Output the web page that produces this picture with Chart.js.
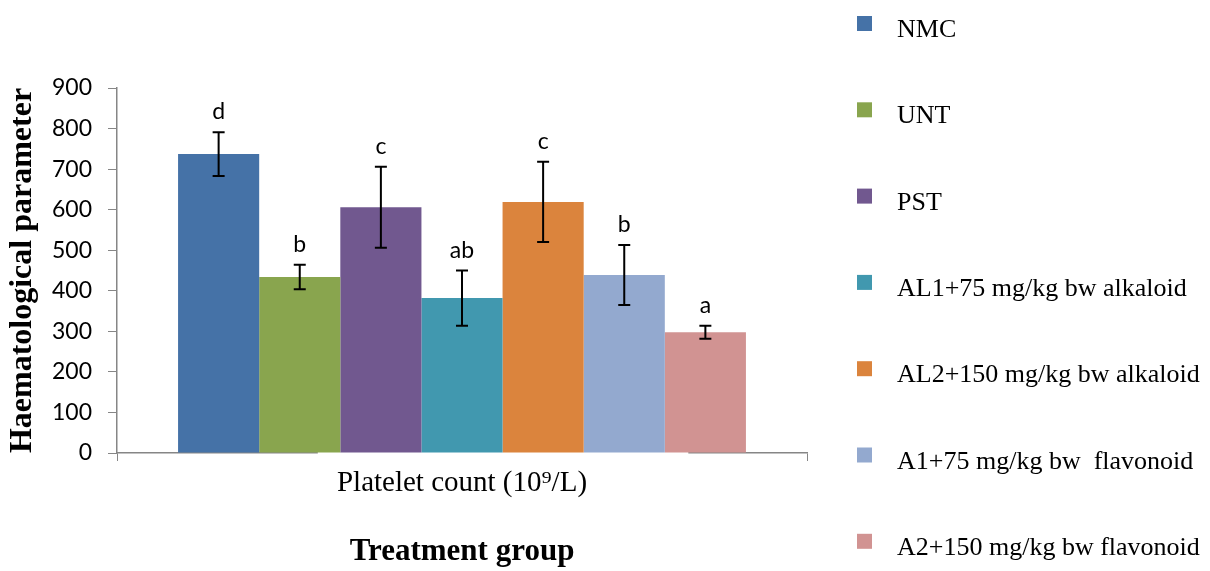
<!DOCTYPE html>
<html>
<head>
<meta charset="utf-8">
<script src="https://cdn.jsdelivr.net/npm/chart.js@4"></script>
<style>
html,body{margin:0;padding:0;background:#fff;}
#wrap{width:1210px;height:571px;}
</style>
</head>
<body>
<div id="wrap"><canvas id="chart"></canvas></div>
<script>
// DATA
const groups = ['NMC','UNT','PST','AL1+75 mg/kg bw alkaloid','AL2+150 mg/kg bw alkaloid','A1+75 mg/kg bw  flavonoid','A2+150 mg/kg bw flavonoid'];
const platelet = [737, 434, 606, 382, 619, 439, 298];
const errors = [54, 30, 100, 68, 99, 74, 16];
const letters = ['d','b','c','ab','c','b','a'];
const colors = ['#4572A7','#89A54E','#71588F','#4198AF','#DB843D','#93A9CF','#D19392'];
const category = ['Platelet count (10\u2079/L)'];

// ERROR BARS + LETTERS
const errorBars = {
  id:'errorBars',
  beforeDatasetsDraw(chart){
    // white label box that hides part of the x axis line
    const a = chart.chartArea, c = chart.ctx;
    c.save();
    c.fillStyle = '#fff';
    c.fillRect(a.left + a.width*0.291, a.bottom - 1, a.width*0.537, 4);
    c.restore();
  },
  afterDatasetsDraw(chart){
    const c = chart.ctx, y = chart.scales.y;
    c.save();
    c.strokeStyle = '#000';
    c.lineWidth = 2;
    c.fillStyle = '#000';
    c.font = '23px Lato';
    c.textAlign = 'center';
    c.textBaseline = 'alphabetic';
    chart.data.datasets.forEach((ds,i)=>{
      const x = chart.getDatasetMeta(i).data[0].x;
      const hi = y.getPixelForValue(platelet[i] + errors[i]);
      const lo = y.getPixelForValue(platelet[i] - errors[i]);
      c.beginPath();
      c.moveTo(x, hi); c.lineTo(x, lo);
      c.moveTo(x-6, hi); c.lineTo(x+6, hi);
      c.moveTo(x-6, lo); c.lineTo(x+6, lo);
      c.stroke();
      c.fillText(letters[i], x, hi - 13);
    });
    c.restore();
  }
};

// LEGEND (right column)
const sideLegend = {
  id:'sideLegend',
  afterDraw(chart){
    const c = chart.ctx;
    const left = chart.chartArea.right + 50;
    c.save();
    c.font = '26px "Liberation Serif"';
    c.textBaseline = 'alphabetic';
    c.textAlign = 'left';
    chart.data.datasets.forEach((ds,i)=>{
      const top = 16 + i*86.3;
      c.fillStyle = ds.backgroundColor;
      c.fillRect(left, top, 15, 15);
      c.fillStyle = '#000';
      c.fillText(ds.label, left + 40, top + 21);
    });
    c.restore();
  }
};

new Chart(document.getElementById('chart'), {
  type:'bar',
  data:{
    labels:category,
    datasets:groups.map((g,i)=>({
      label:g,
      data:[platelet[i]],
      backgroundColor:colors[i],
      borderWidth:0,
      categoryPercentage:0.823,
      barPercentage:1
    }))
  },
  options:{
    responsive:true,
    maintainAspectRatio:false,
    animation:false,
    layout:{padding:{left:0, top:88, right:403, bottom:0}},
    plugins:{legend:{display:false}, tooltip:{enabled:false}},
    scales:{
      x:{
        grid:{drawOnChartArea:false, drawTicks:true, tickLength:8, color:'#868686', offset:true},
        border:{color:'#868686', width:1.5},
        ticks:{font:{family:'Liberation Serif', size:29}, color:'#000', padding:5},
        title:{display:true, text:'Treatment group', color:'#000',
          font:{family:'Liberation Serif', size:31, weight:'bold'}, padding:{top:0, bottom:0}},
        afterFit(s){ s.height = 118; }
      },
      y:{
        min:0, max:900,
        ticks:{stepSize:100, font:{family:'Lato', size:23}, color:'#000', padding:16},
        grid:{drawOnChartArea:false, tickLength:9, color:'#868686'},
        border:{color:'#868686', width:1.5},
        title:{display:true, text:'Haematological parameter', color:'#000',
          font:{family:'Liberation Serif', size:32, weight:'bold'}, padding:{top:4, bottom:0}},
        afterFit(s){ s.width = 117; }
      }
    }
  },
  plugins:[errorBars, sideLegend]
});
</script>
</body>
</html>
